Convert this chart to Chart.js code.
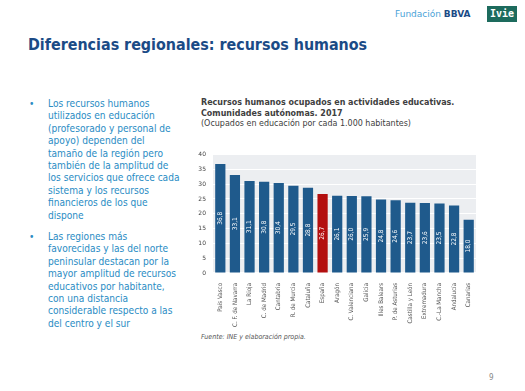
<!DOCTYPE html>
<html>
<head>
<meta charset="utf-8">
<script src="https://cdn.jsdelivr.net/npm/chart.js@4"></script>
<style>
  body { margin: 0; width: 525px; height: 391px; background: #fff; position: relative; overflow: hidden; font-family: "DejaVu Sans Condensed", "DejaVu Sans", Verdana, sans-serif; }
  .abs { position: absolute; }
  #title { left: 28px; top: 35px; font-size: 15.9px; font-weight: bold; color: #1b4b86; white-space: nowrap; }
  #logo { left: 395px; top: 9px; font-size: 9px; color: #4aa3d8; white-space: nowrap; font-family: "DejaVu Sans", sans-serif; }
  #logo b { color: #1b4b86; }
  #ivie { left: 487px; top: 6px; width: 30px; height: 16px; background: #1d6b5d; color: #fff; font-size: 10px; font-weight: bold; text-align: center; line-height: 16px; font-family: "DejaVu Sans Mono", monospace; }
  .bul { left: 29px; font-size: 10.1px; color: #2a8cc4; line-height: 12.4px; }
  .bul span.dot { position: absolute; left: 0; top: 0; }
  .bul div.t { margin-left: 19px; white-space: nowrap; }
  #ctitle { left: 201px; top: 97px; font-size: 8.9px; color: #404040; line-height: 10.5px; white-space: nowrap; }
  #src { left: 201px; top: 333px; font-size: 7px; font-style: italic; color: #555; }
  #page { left: 489px; top: 373px; font-size: 8px; color: #888; }
  #wrap { left: 190px; top: 144px; width: 292px; height: 185px; }
</style>
</head>
<body>
<div id="title" class="abs">Diferencias regionales: recursos humanos</div>
<div id="logo" class="abs">Fundación <b>BBVA</b></div>
<div id="ivie" class="abs">Ivie</div>

<div class="abs bul" style="top:98px">
  <span class="dot">•</span>
  <div class="t">Los recursos humanos<br>utilizados en educación<br>(profesorado y personal de<br>apoyo) dependen del<br>tamaño de la región pero<br>también de la amplitud de<br>los servicios que ofrece cada<br>sistema y los recursos<br>financieros de los que<br>dispone</div>
</div>
<div class="abs bul" style="top:231px">
  <span class="dot">•</span>
  <div class="t">Las regiones más<br>favorecidas y las del norte<br>peninsular destacan por la<br>mayor amplitud de recursos<br>educativos por habitante,<br>con una distancia<br>considerable respecto a las<br>del centro y el sur</div>
</div>

<div id="ctitle" class="abs"><b>Recursos humanos ocupados en actividades educativas.<br>Comunidades autónomas. 2017</b><br>(Ocupados en educación por cada 1.000 habitantes)</div>

<div id="wrap" class="abs"><canvas id="chart"></canvas></div>

<div id="src" class="abs">Fuente: INE y elaboración propia.</div>
<div id="page" class="abs">9</div>

<script>
const regions = ['País Vasco', 'C. F. de Navarra', 'La Rioja', 'C. de Madrid', 'Cantabria', 'R. de Murcia', 'Cataluña', 'España', 'Aragón', 'C. Valenciana', 'Galicia', 'Illes Balears', 'P. de Asturias', 'Castilla y León', 'Extremadura', 'C.-La Mancha', 'Andalucía', 'Canarias'];
const staff = [36.8, 33.1, 31.1, 30.8, 30.4, 29.5, 28.8, 26.7, 26.1, 26.0, 25.9, 24.8, 24.6, 23.7, 23.6, 23.5, 22.8, 18.0];
const yTicks = [0, 5, 10, 15, 20, 25, 30, 35, 40];

const barColors = regions.map(r => r === 'España' ? '#b30f0f' : '#1f5a8c');

// plot background
const plotBg = {
  id: 'plotBg',
  beforeDraw(chart) {
    const { ctx, chartArea } = chart;
    ctx.save();
    ctx.fillStyle = '#eceef1';
    ctx.fillRect(chartArea.left, chartArea.top, chartArea.right - chartArea.left, chartArea.bottom - chartArea.top);
    ctx.restore();
  }
};

// vertical value labels inside bars
const barLabels = {
  id: 'barLabels',
  afterDatasetsDraw(chart) {
    const { ctx } = chart;
    const meta = chart.getDatasetMeta(0);
    ctx.save();
    ctx.fillStyle = '#ffffff';
    ctx.font = '6.5px "DejaVu Sans Condensed", "DejaVu Sans", sans-serif';
    ctx.textAlign = 'center';
    ctx.textBaseline = 'middle';
    meta.data.forEach((bar, i) => {
      const cy = (bar.y + bar.base) / 2;
      ctx.save();
      ctx.translate(bar.x, cy);
      ctx.rotate(-Math.PI / 2);
      ctx.fillText(staff[i].toFixed(1).replace('.', ','), 0, 0);
      ctx.restore();
    });
    ctx.restore();
  }
};

new Chart(document.getElementById('chart'), {
  type: 'bar',
  data: {
    labels: regions,
    datasets: [{
      data: staff,
      backgroundColor: barColors,
      barPercentage: 0.7,
      categoryPercentage: 1.0
    }]
  },
  options: {
    responsive: true,
    maintainAspectRatio: false,
    animation: false,
    layout: { padding: { top: 2, right: 6, left: 0, bottom: 0 } },
    plugins: { legend: { display: false }, tooltip: { enabled: false } },
    scales: {
      x: {
        grid: { display: false },
        border: { display: false },
        ticks: {
          color: '#555',
          font: { size: 6.2, family: '"DejaVu Sans Condensed", "DejaVu Sans", sans-serif' },
          maxRotation: 90,
          minRotation: 90,
          autoSkip: false,
          padding: 2
        }
      },
      y: {
        min: 0,
        max: 40,
        afterFit(scale) { scale.width = 23; },
        afterBuildTicks(scale) { scale.ticks = yTicks.map(v => ({ value: v })); },
        grid: { color: '#ffffff', lineWidth: 1, drawTicks: false },
        border: { display: false },
        ticks: {
          color: '#444',
          font: { size: 6, family: '"DejaVu Sans", sans-serif' },
          padding: 7
        }
      }
    }
  },
  plugins: [plotBg, barLabels]
});
</script>
</body>
</html>
